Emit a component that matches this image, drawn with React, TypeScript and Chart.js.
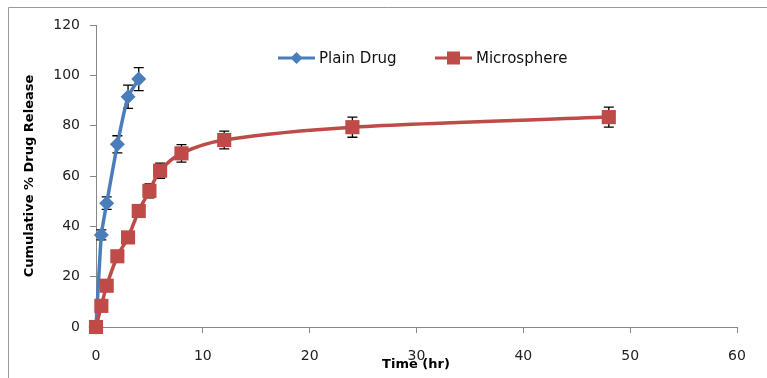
import React, { useEffect, useRef } from "react";
import { Chart, registerables } from "chart.js";

Chart.register(...registerables);

const plainTime = [0, 0.5, 1, 2, 3, 4];
const plainRelease = [0, 36.6, 49.2, 72.6, 91.5, 98.5];
const plainErr = [0, 2, 2.5, 3.4, 4.6, 4.6];

const microTime = [0, 0.5, 1, 2, 3, 4, 5, 6, 8, 12, 24, 48];
const microRelease = [0, 8.4, 16.4, 28.1, 35.6, 46.1, 54.1, 62.1, 69, 74.3, 79.4, 83.4];
const microErr = [0, 1, 1, 1, 1.5, 1.5, 2.8, 3, 3.5, 3.5, 4, 4];

const xTicks = [0, 10, 20, 30, 40, 50, 60];
const yTicks = [0, 20, 40, 60, 80, 100, 120];

const seriesNames = ["Plain Drug", "Microsphere"];
const BLUE = "#4A7EBB";
const RED = "#BE4B48";
const FONT = "'DejaVu Sans', sans-serif";

const errorBarPlugin = {
  id: "errorBars",
  beforeDatasetsDraw(chart: any) {
    const ctx = chart.ctx;
    const xs = chart.scales.x;
    const ys = chart.scales.y;
    ctx.save();
    ctx.strokeStyle = "#000";
    ctx.lineWidth = 1.3;
    chart.data.datasets.forEach((ds: any) => {
      const errs: number[] = ds.errors || [];
      ds.data.forEach((p: any, i: number) => {
        const e = errs[i];
        if (!e) return;
        const x = xs.getPixelForValue(p.x);
        const y1 = ys.getPixelForValue(p.y + e);
        const y2 = ys.getPixelForValue(p.y - e);
        ctx.beginPath();
        ctx.moveTo(x, y1);
        ctx.lineTo(x, y2);
        ctx.moveTo(x - 5, y1);
        ctx.lineTo(x + 5, y1);
        ctx.moveTo(x - 5, y2);
        ctx.lineTo(x + 5, y2);
        ctx.stroke();
      });
    });
    ctx.restore();
  },
};

const decorPlugin = {
  id: "decor",
  beforeDraw(chart: any) {
    const ctx = chart.ctx;
    ctx.save();
    ctx.fillStyle = "#fff";
    ctx.fillRect(0, 0, chart.width, chart.height);
    ctx.strokeStyle = "#9a9a9a";
    ctx.lineWidth = 1;
    ctx.beginPath();
    ctx.moveTo(8.5, chart.height);
    ctx.lineTo(8.5, 7.5);
    ctx.lineTo(chart.width, 7.5);
    ctx.stroke();
    ctx.restore();
  },
  afterDraw(chart: any) {
    const ctx = chart.ctx;
    ctx.save();
    ctx.fillStyle = "#000";
    ctx.font = `bold 13px ${FONT}`;
    ctx.textAlign = "center";
    ctx.textBaseline = "middle";
    ctx.fillText("Time (hr)", 416, 365);
    ctx.translate(30, 176);
    ctx.rotate(-Math.PI / 2);
    ctx.fillText("Cumulative % Drug Release", 0, 0);
    ctx.restore();

    ctx.save();
    ctx.font = `15px ${FONT}`;
    ctx.textBaseline = "middle";
    ctx.textAlign = "left";
    const items = [
      { name: seriesNames[0], color: BLUE, x0: 278, style: "diamond" },
      { name: seriesNames[1], color: RED, x0: 435, style: "square" },
    ];
    const ly = 58;
    items.forEach((it) => {
      ctx.strokeStyle = it.color;
      ctx.lineWidth = 3;
      ctx.beginPath();
      ctx.moveTo(it.x0, ly);
      ctx.lineTo(it.x0 + 37, ly);
      ctx.stroke();
      ctx.fillStyle = it.color;
      const cx = it.x0 + 18.5;
      ctx.beginPath();
      if (it.style === "diamond") {
        ctx.moveTo(cx - 6, ly);
        ctx.lineTo(cx, ly - 6);
        ctx.lineTo(cx + 6, ly);
        ctx.lineTo(cx, ly + 6);
        ctx.closePath();
      } else {
        ctx.rect(cx - 6.5, ly - 6.5, 13, 13);
      }
      ctx.fill();
      ctx.fillStyle = "#111";
      ctx.fillText(it.name, it.x0 + 41, ly + 1);
    });
    ctx.restore();
  },
};

export default function App() {
  const ref = useRef<HTMLCanvasElement>(null);
  useEffect(() => {
    if (!ref.current) return;
    const chart = new Chart(ref.current, {
      type: "line",
      data: {
        datasets: [
          {
            label: seriesNames[1],
            data: microTime.map((t, i) => ({ x: t, y: microRelease[i] })),
            errors: microErr,
            borderColor: RED,
            backgroundColor: RED,
            borderWidth: 3.5,
            pointStyle: "rect",
            pointRadius: 10,
            pointBorderWidth: 0,
            pointBackgroundColor: RED,
            tension: 0.3,
            clip: false,
          } as any,
          {
            label: seriesNames[0],
            data: plainTime.map((t, i) => ({ x: t, y: plainRelease[i] })),
            errors: plainErr,
            borderColor: BLUE,
            backgroundColor: BLUE,
            borderWidth: 3.5,
            pointStyle: "rectRot",
            pointRadius: 7.5,
            pointBorderWidth: 0,
            pointBackgroundColor: BLUE,
            tension: 0.15,
            clip: false,
          } as any,
        ],
      },
      options: {
        animation: false,
        responsive: false,
        layout: { padding: { left: 0, right: 30, top: 25, bottom: 0 } },
        plugins: { legend: { display: false }, tooltip: { enabled: false } },
        scales: {
          x: {
            type: "linear",
            min: 0,
            max: 60,
            afterBuildTicks: (s: any) => {
              s.ticks = xTicks.map((v) => ({ value: v }));
            },
            afterFit: (s: any) => {
              s.height = 51;
            },
            ticks: { font: { family: FONT, size: 14 }, color: "#222", padding: 15 },
            grid: { drawOnChartArea: false, drawTicks: true, tickLength: 6, color: "#888" },
            border: { color: "#888", width: 1 },
          },
          y: {
            type: "linear",
            min: 0,
            max: 120,
            afterBuildTicks: (s: any) => {
              s.ticks = yTicks.map((v) => ({ value: v }));
            },
            afterFit: (s: any) => {
              s.width = 96;
            },
            ticks: { font: { family: FONT, size: 14 }, color: "#222", padding: 10 },
            grid: { drawOnChartArea: false, drawTicks: true, tickLength: 6, color: "#888" },
            border: { color: "#888", width: 1 },
          },
        },
      },
      plugins: [decorPlugin, errorBarPlugin],
    } as any);
    return () => chart.destroy();
  }, []);
  return (
    <div style={{ position: "fixed", left: 0, top: 0, width: 767, height: 378 }}>
      <canvas ref={ref} width={767} height={378} style={{ display: "block" }} />
    </div>
  );
}
